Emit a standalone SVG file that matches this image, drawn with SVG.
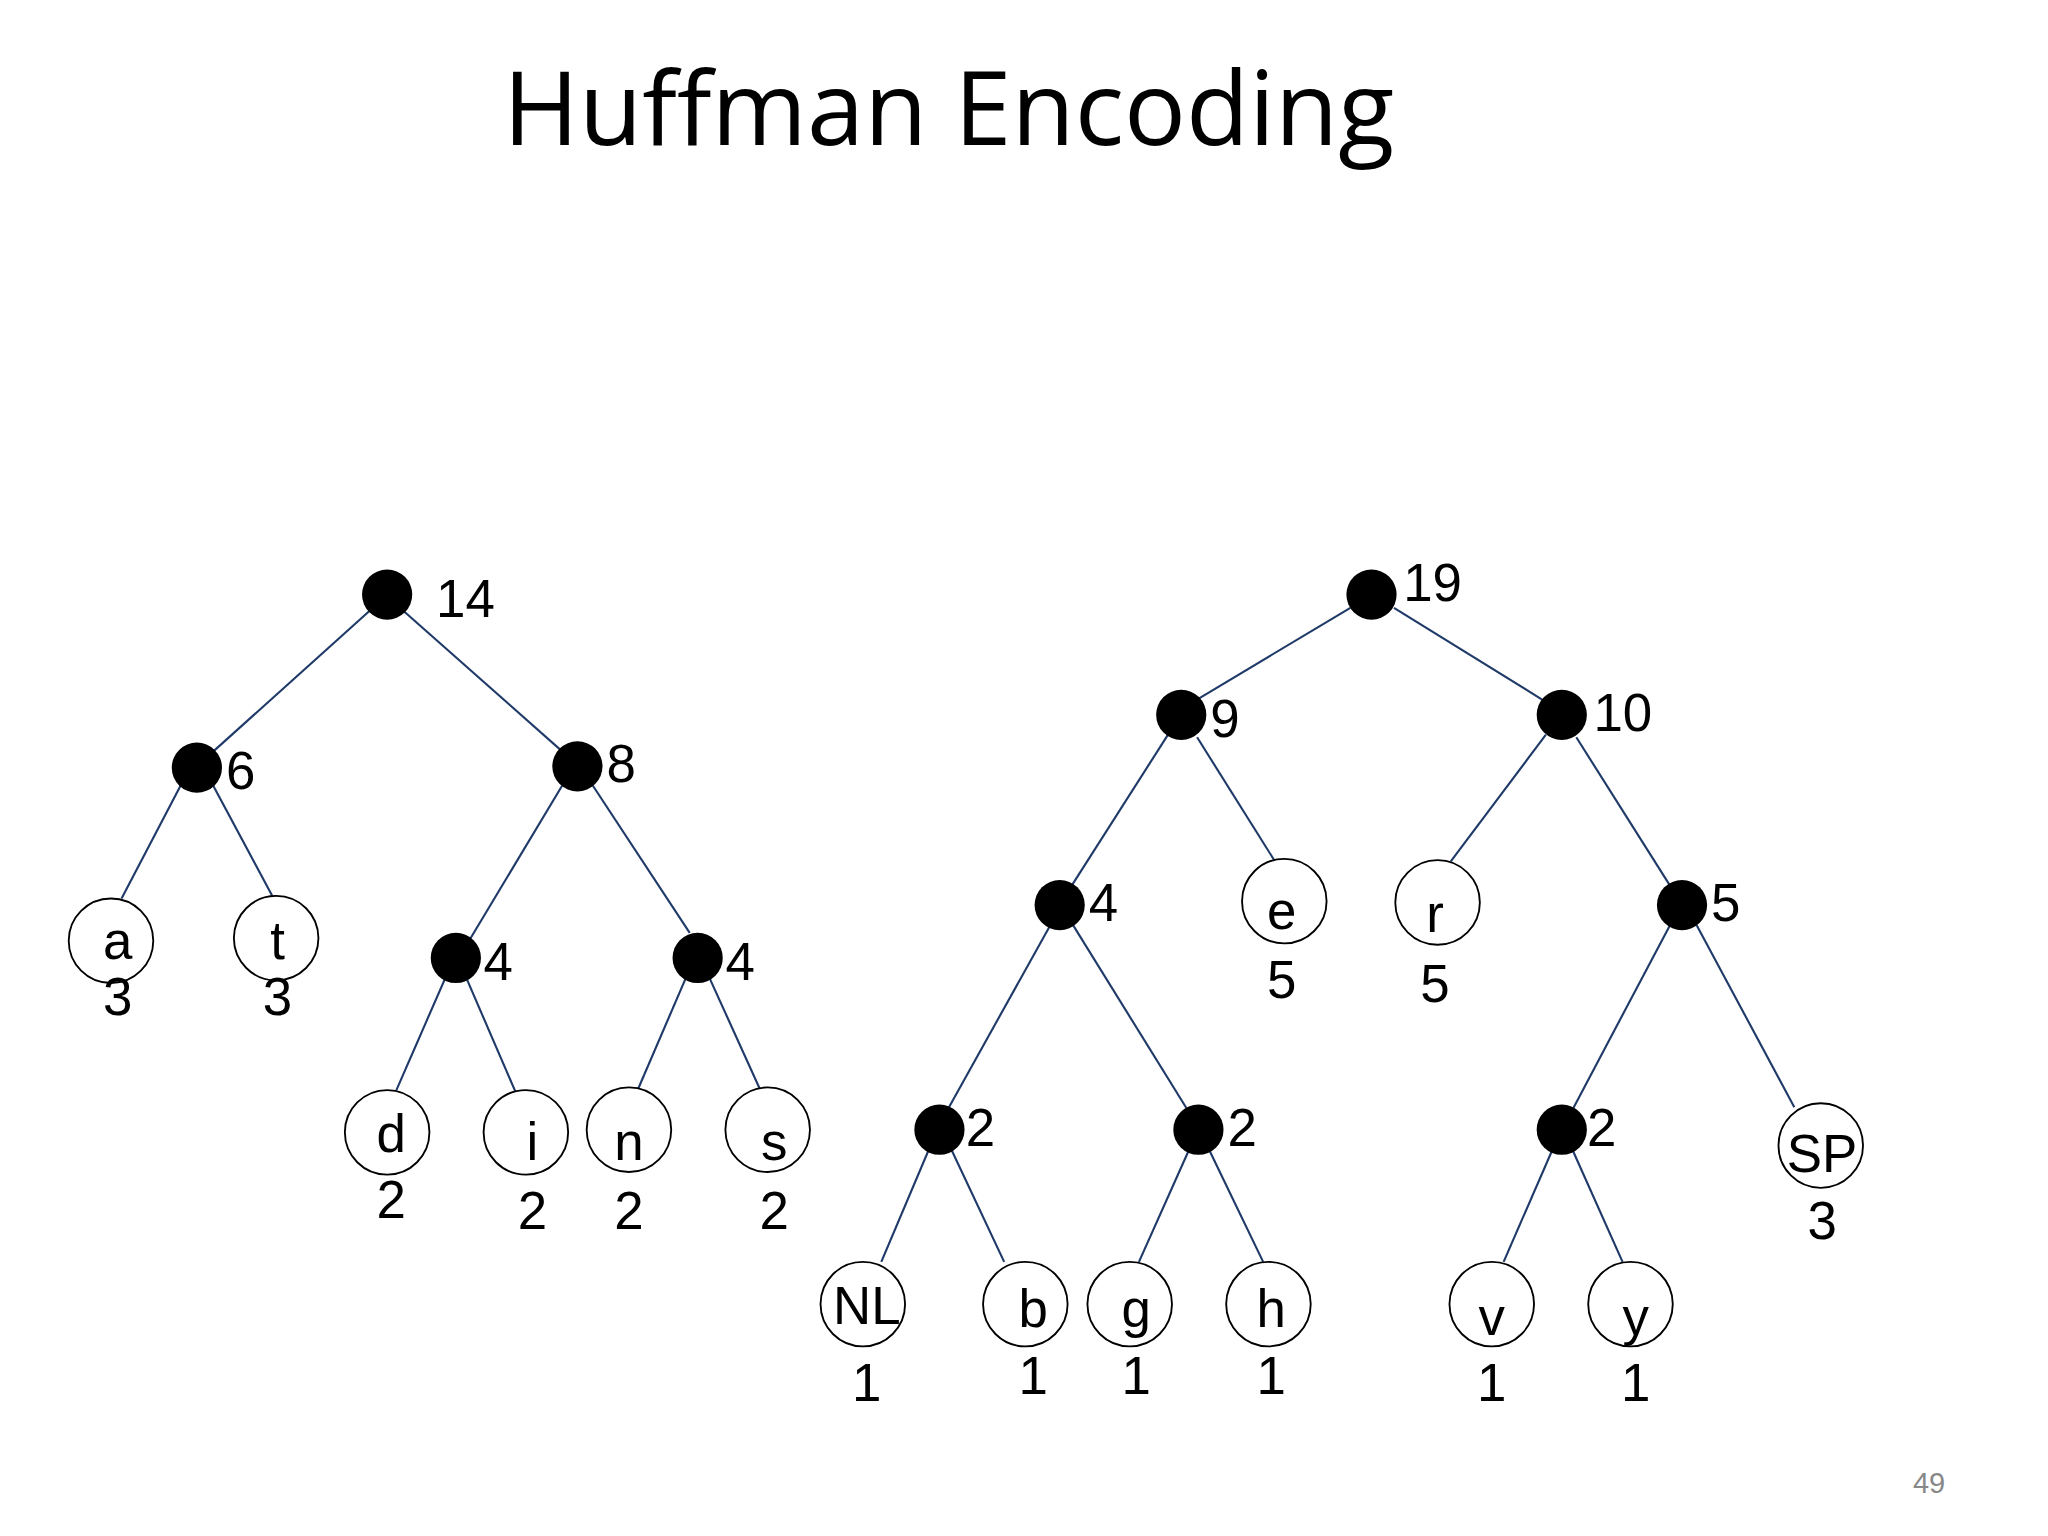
<svg xmlns="http://www.w3.org/2000/svg" width="2048" height="1536" viewBox="0 0 2048 1536">
<style>
.e{stroke:#1f3a68;stroke-width:1.6;fill:none}
.d{fill:#000}
.c{fill:#fff;stroke:#000;stroke-width:1.4}
.t{font-family:"Liberation Sans",Arial,sans-serif;font-size:40px;fill:#000}
.m{text-anchor:middle}
</style>
<rect width="2048" height="1536" fill="#fff"/>
<g transform="scale(1.3213)">
<text x="718" y="110" class="m" font-family="Open Sans,Noto Sans,sans-serif" font-size="78" fill="#000">Huffman Encoding</text>
<text x="1460" y="1130" class="m" font-family="Liberation Sans,sans-serif" font-size="22" fill="#888">49</text>
<g id="connectors">
<line class="e" x1="280" y1="462" x2="160" y2="570"/>
<line class="e" x1="305" y1="462" x2="427" y2="570"/>
<line class="e" x1="138" y1="592" x2="92" y2="680"/>
<line class="e" x1="160" y1="592" x2="206" y2="678"/>
<line class="e" x1="427" y1="592" x2="355" y2="712"/>
<line class="e" x1="447" y1="592" x2="522" y2="706"/>
<line class="e" x1="338" y1="738" x2="300" y2="825"/>
<line class="e" x1="352" y1="738" x2="390" y2="826"/>
<line class="e" x1="520" y1="738" x2="483" y2="824"/>
<line class="e" x1="536" y1="738" x2="575" y2="824"/>
<line class="e" x1="1022" y1="460" x2="905" y2="530"/>
<line class="e" x1="1055" y1="460" x2="1168" y2="530"/>
<line class="e" x1="884" y1="556" x2="810" y2="672"/>
<line class="e" x1="906" y1="558" x2="965" y2="652"/>
<line class="e" x1="1170" y1="556" x2="1098" y2="652"/>
<line class="e" x1="1193" y1="558" x2="1265" y2="672"/>
<line class="e" x1="795" y1="700" x2="716" y2="842"/>
<line class="e" x1="812" y1="700" x2="900" y2="842"/>
<line class="e" x1="1264" y1="700" x2="1190" y2="840"/>
<line class="e" x1="1284" y1="700" x2="1358" y2="838"/>
<line class="e" x1="703" y1="870" x2="667" y2="955"/>
<line class="e" x1="720" y1="870" x2="760" y2="955"/>
<line class="e" x1="900" y1="870" x2="862" y2="955"/>
<line class="e" x1="915" y1="870" x2="956" y2="955"/>
<line class="e" x1="1175" y1="870" x2="1138" y2="955"/>
<line class="e" x1="1190" y1="870" x2="1228" y2="955"/>
</g>
<g id="n14"><circle class="d" cx="293" cy="450" r="19"/><text class="t" x="330" y="467">14</text></g>
<g id="n6"><circle class="d" cx="149" cy="581" r="19"/><text class="t" x="171" y="597">6</text></g>
<g id="n8"><circle class="d" cx="437" cy="580" r="19"/><text class="t" x="459" y="592">8</text></g>
<g id="na"><circle class="c" cx="84" cy="712" r="32"/><text class="t m" x="89" y="726">a</text><text class="t m" x="89" y="768">3</text></g>
<g id="nt"><circle class="c" cx="209" cy="710" r="32"/><text class="t m" x="210" y="726">t</text><text class="t m" x="210" y="768">3</text></g>
<g id="n4a"><circle class="d" cx="345" cy="725" r="19"/><text class="t" x="366" y="742">4</text></g>
<g id="n4b"><circle class="d" cx="528" cy="725" r="19"/><text class="t" x="549" y="742">4</text></g>
<g id="nd"><circle class="c" cx="293" cy="857" r="32"/><text class="t m" x="296" y="872">d</text><text class="t m" x="296" y="922">2</text></g>
<g id="ni"><circle class="c" cx="398" cy="857" r="32"/><text class="t m" x="403" y="878">i</text><text class="t m" x="403" y="930">2</text></g>
<g id="nn"><circle class="c" cx="476" cy="855" r="32"/><text class="t m" x="476" y="878">n</text><text class="t m" x="476" y="930">2</text></g>
<g id="ns"><circle class="c" cx="581" cy="855" r="32"/><text class="t m" x="586" y="878">s</text><text class="t m" x="586" y="930">2</text></g>
<g id="n19"><circle class="d" cx="1038" cy="450" r="19"/><text class="t" x="1062" y="455">19</text></g>
<g id="n9"><circle class="d" cx="894" cy="541" r="19"/><text class="t" x="916" y="558">9</text></g>
<g id="n10"><circle class="d" cx="1182" cy="541" r="19"/><text class="t" x="1206" y="553">10</text></g>
<g id="n4c"><circle class="d" cx="802" cy="685" r="19"/><text class="t" x="824" y="697">4</text></g>
<g id="ne"><circle class="c" cx="972" cy="682" r="32"/><text class="t m" x="970" y="703">e</text><text class="t m" x="970" y="755">5</text></g>
<g id="nr"><circle class="c" cx="1088" cy="683" r="32"/><text class="t m" x="1086" y="705">r</text><text class="t m" x="1086" y="758">5</text></g>
<g id="n5"><circle class="d" cx="1273" cy="685" r="19"/><text class="t" x="1295" y="697">5</text></g>
<g id="n2a"><circle class="d" cx="711" cy="855" r="19"/><text class="t" x="731" y="867">2</text></g>
<g id="n2b"><circle class="d" cx="907" cy="855" r="19"/><text class="t" x="929" y="867">2</text></g>
<g id="n2c"><circle class="d" cx="1182" cy="855" r="19"/><text class="t" x="1201" y="867">2</text></g>
<g id="nSP"><circle class="c" cx="1378" cy="867" r="32"/><text class="t m" x="1379" y="887">SP</text><text class="t m" x="1379" y="938">3</text></g>
<g id="nNL"><circle class="c" cx="653" cy="987" r="32"/><text class="t m" x="656" y="1002">NL</text><text class="t m" x="656" y="1060">1</text></g>
<g id="nb"><circle class="c" cx="776" cy="987" r="32"/><text class="t m" x="782" y="1004">b</text><text class="t m" x="782" y="1055">1</text></g>
<g id="ng"><circle class="c" cx="855" cy="987" r="32"/><text class="t m" x="860" y="1004">g</text><text class="t m" x="860" y="1055">1</text></g>
<g id="nh"><circle class="c" cx="960" cy="987" r="32"/><text class="t m" x="962" y="1004">h</text><text class="t m" x="962" y="1055">1</text></g>
<g id="nv"><circle class="c" cx="1129" cy="987" r="32"/><text class="t m" x="1129" y="1010">v</text><text class="t m" x="1129" y="1060">1</text></g>
<g id="ny"><circle class="c" cx="1234" cy="987" r="32"/><text class="t m" x="1238" y="1010">y</text><text class="t m" x="1238" y="1060">1</text></g>
</g>
</svg>
